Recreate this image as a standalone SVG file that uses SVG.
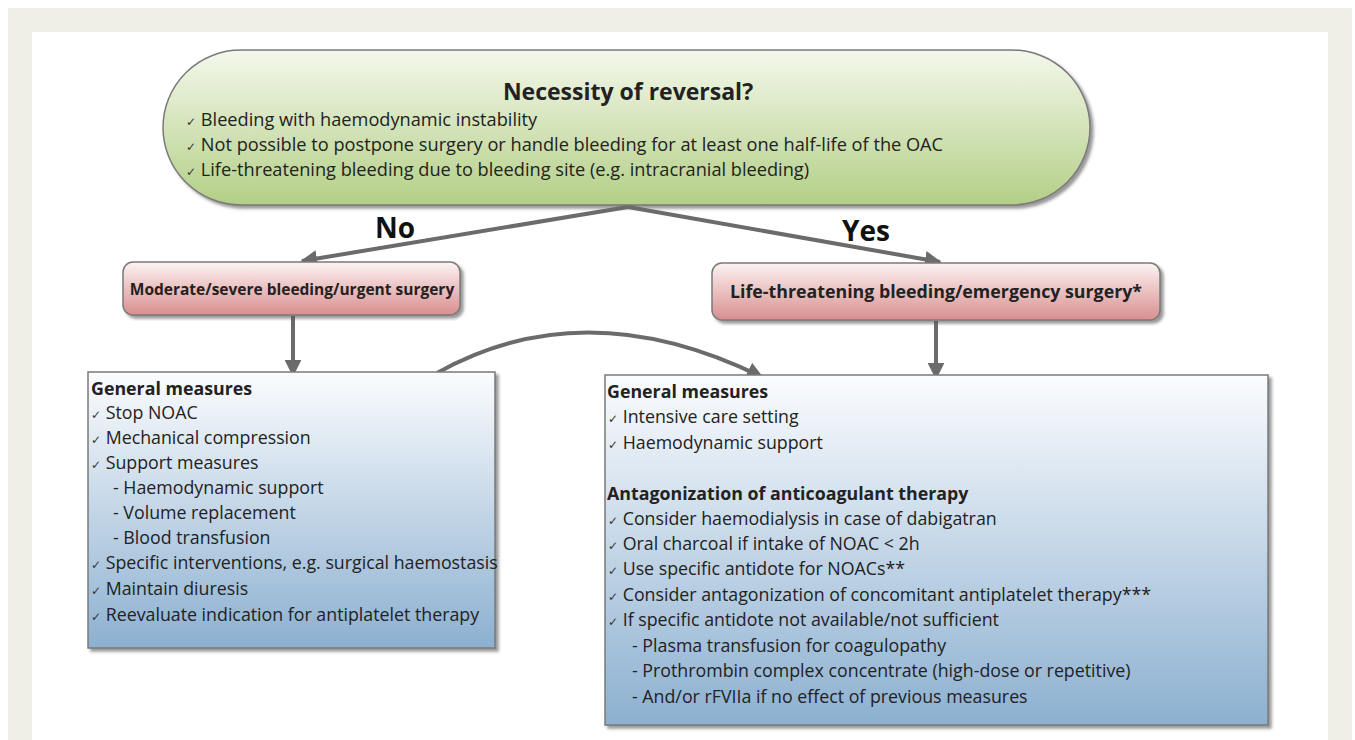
<svg xmlns="http://www.w3.org/2000/svg" width="1355" height="740" viewBox="0 0 1355 740">
<defs>
<linearGradient id="gGreen" x1="0" y1="0" x2="0" y2="1">
<stop offset="0" stop-color="#f4f8ec"/><stop offset="1" stop-color="#b3cf86"/>
</linearGradient>
<linearGradient id="gRed" x1="0" y1="0" x2="0" y2="1">
<stop offset="0" stop-color="#fdf3f3"/><stop offset="1" stop-color="#d98e8e"/>
</linearGradient>
<linearGradient id="gBlue" x1="0" y1="0" x2="0" y2="1">
<stop offset="0" stop-color="#fbfcfe"/><stop offset="1" stop-color="#8cb0d0"/>
</linearGradient>
<filter id="sh" x="-5%" y="-5%" width="112%" height="115%">
<feDropShadow dx="3" dy="3" stdDeviation="1.5" flood-color="#555" flood-opacity="0.6"/>
</filter>
<marker id="ah" viewBox="0 0 10 10" refX="9" refY="5" markerWidth="4.2" markerHeight="4.2" orient="auto" markerUnits="strokeWidth">
<path d="M0,0 L10,5 L0,10 z" fill="#6b6b6b"/>
</marker>
<style>
.t{font-family:"Open Sans","Noto Sans",sans-serif;fill:#222;font-size:17.8px}
.p{font-size:18.2px}
.b{font-weight:bold}
.h1{font-size:23px;font-weight:bold}
.yn{font-size:28px;font-weight:bold;fill:#111}
.sm{font-size:15.5px}
.ck{font-family:"DejaVu Sans",sans-serif;font-size:12px;fill:#333}
.conn{fill:none;stroke:#6b6b6b;stroke-width:4}
.box{stroke:#7a7a7a;stroke-width:1.5}
</style>
</defs>
<rect x="0" y="0" width="1355" height="740" fill="#ffffff"/>
<rect x="8" y="8" width="1344" height="732" fill="#efefe5"/>
<rect x="32" y="32" width="1296" height="708" fill="#ffffff"/>

<g id="node-reversal">
<rect class="box" x="163" y="50" width="927" height="155" rx="78" ry="78" fill="url(#gGreen)" filter="url(#sh)"/>
<text class="t h1" x="628" y="100" text-anchor="middle">Necessity of reversal?</text>
<text class="t p" x="186" y="126"><tspan class="ck">✓</tspan> Bleeding with haemodynamic instability</text>
<text class="t p" x="186" y="151"><tspan class="ck">✓</tspan> Not possible to postpone surgery or handle bleeding for at least one half-life of the OAC</text>
<text class="t p" x="186" y="176"><tspan class="ck">✓</tspan> Life-threatening bleeding due to bleeding site (e.g. intracranial bleeding)</text>
</g>

<g id="connectors">
<line class="conn" x1="628" y1="207" x2="302" y2="261" marker-end="url(#ah)"/>
<line class="conn" x1="628" y1="207" x2="940" y2="262" marker-end="url(#ah)"/>
<line class="conn" x1="293" y1="316" x2="293" y2="375" marker-end="url(#ah)"/>
<line class="conn" x1="936" y1="321" x2="936" y2="378" marker-end="url(#ah)"/>
<path class="conn" d="M437,373 Q585,290 762,377" marker-end="url(#ah)"/>
<text class="t yn" x="395" y="238" text-anchor="middle">No</text>
<text class="t yn" x="866" y="241" text-anchor="middle">Yes</text>
</g>

<g id="node-moderate">
<rect class="box" x="123" y="262" width="337" height="53" rx="10" ry="10" fill="url(#gRed)" filter="url(#sh)"/>
<text class="t b sm" x="292" y="295" text-anchor="middle">Moderate/severe bleeding/urgent surgery</text>
</g>

<g id="node-life">
<rect class="box" x="712" y="263" width="448" height="57" rx="10" ry="10" fill="url(#gRed)" filter="url(#sh)"/>
<text class="t b" x="936" y="298" text-anchor="middle">Life-threatening bleeding/emergency surgery*</text>
</g>

<g id="node-left-measures">
<rect class="box" x="88" y="372" width="407" height="276" fill="url(#gBlue)" filter="url(#sh)"/>
<text class="t b" x="91" y="395">General measures</text>
<text class="t" x="91" y="419"><tspan class="ck">✓</tspan> Stop NOAC</text>
<text class="t" x="91" y="444"><tspan class="ck">✓</tspan> Mechanical compression</text>
<text class="t" x="91" y="469"><tspan class="ck">✓</tspan> Support measures</text>
<text class="t" x="113" y="494">- Haemodynamic support</text>
<text class="t" x="113" y="519">- Volume replacement</text>
<text class="t" x="113" y="544">- Blood transfusion</text>
<text class="t" x="91" y="569"><tspan class="ck">✓</tspan> Specific interventions, e.g. surgical haemostasis</text>
<text class="t" x="91" y="595"><tspan class="ck">✓</tspan> Maintain diuresis</text>
<text class="t" x="91" y="621"><tspan class="ck">✓</tspan> Reevaluate indication for antiplatelet therapy</text>
</g>

<g id="node-right-measures">
<rect class="box" x="605" y="375" width="663" height="350" fill="url(#gBlue)" filter="url(#sh)"/>
<text class="t b" x="607" y="398">General measures</text>
<text class="t" x="608" y="423"><tspan class="ck">✓</tspan> Intensive care setting</text>
<text class="t" x="608" y="449"><tspan class="ck">✓</tspan> Haemodynamic support</text>
<text class="t b" x="607" y="500">Antagonization of anticoagulant therapy</text>
<text class="t" x="608" y="525"><tspan class="ck">✓</tspan> Consider haemodialysis in case of dabigatran</text>
<text class="t" x="608" y="550"><tspan class="ck">✓</tspan> Oral charcoal if intake of NOAC &lt; 2h</text>
<text class="t" x="608" y="575"><tspan class="ck">✓</tspan> Use specific antidote for NOACs**</text>
<text class="t" x="608" y="601"><tspan class="ck">✓</tspan> Consider antagonization of concomitant antiplatelet therapy***</text>
<text class="t" x="608" y="626"><tspan class="ck">✓</tspan> If specific antidote not available/not sufficient</text>
<text class="t" x="632" y="652">- Plasma transfusion for coagulopathy</text>
<text class="t" x="632" y="677">- Prothrombin complex concentrate (high-dose or repetitive)</text>
<text class="t" x="632" y="703">- And/or rFVIIa if no effect of previous measures</text>
</g>
</svg>
